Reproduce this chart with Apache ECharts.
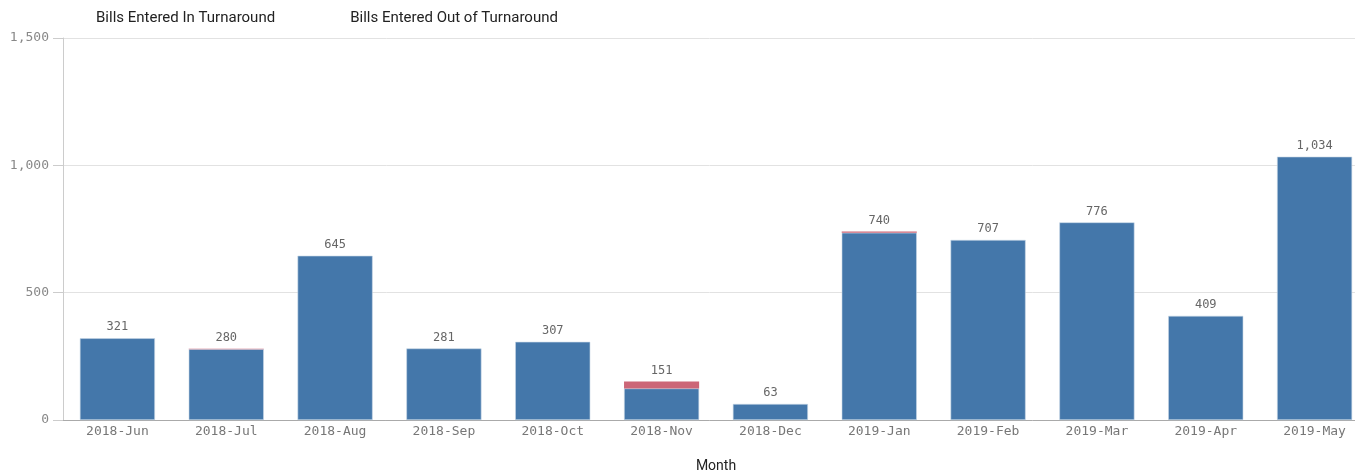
<!DOCTYPE html>
<html>
<head>
<meta charset="utf-8">
<script src="https://cdn.jsdelivr.net/npm/echarts@6/dist/echarts.min.js"></script>
<style>html,body{margin:0;padding:0;background:#fff;}#c{width:1355px;height:473px;}</style>
</head>
<body>
<div id="c"></div>
<script>
const categories = ['2018-Jun','2018-Jul','2018-Aug','2018-Sep','2018-Oct','2018-Nov','2018-Dec','2019-Jan','2019-Feb','2019-Mar','2019-Apr','2019-May'];
const inTurnaround = [321, 278, 645, 281, 307, 124, 63, 735, 707, 776, 409, 1034];
const outTurnaround = [0, 2, 0, 0, 0, 27, 0, 5, 0, 0, 0, 0];
const totals = inTurnaround.map((v, i) => v + outTurnaround[i]);
const yTicks = [0, 500, 1000, 1500];

const mono = 'DejaVu Sans Mono';
const chart = echarts.init(document.getElementById('c'));
chart.setOption({
  animation: false,
  legend: {
    left: 85, top: 6,
    itemWidth: 0, itemHeight: 0, itemGap: 70,
    icon: 'rect',
    textStyle: { fontFamily: 'Roboto', fontSize: 15, color: '#222' },
    data: ['Bills Entered In Turnaround', 'Bills Entered Out of Turnaround']
  },
  grid: { left: 63, right: -14, top: 38, bottom: 53, outerBoundsMode: 'none', containLabel: false },
  xAxis: {
    type: 'category',
    data: categories,
    name: 'Month',
    nameLocation: 'middle',
    nameGap: 39,
    nameTextStyle: { fontFamily: 'Roboto', fontSize: 14, color: '#222', padding: [0, 0, 0, 0] },
    axisLine: { lineStyle: { color: '#aaa' } },
    axisTick: { show: false },
    axisLabel: { fontFamily: mono, fontSize: 13, color: '#777', margin: 5 }
  },
  yAxis: {
    type: 'value',
    min: 0, max: 1500, interval: 500,
    axisLine: { show: true, lineStyle: { color: '#ccc' } },
    axisTick: { show: true, length: 10, lineStyle: { color: '#ccc' } },
    splitLine: { lineStyle: { color: '#e2e2e2' } },
    axisLabel: {
      fontFamily: mono, fontSize: 13, color: '#888', margin: 14,
      formatter: v => yTicks.includes(v) ? v.toLocaleString('en-US') : ''
    }
  },
  series: [
    {
      name: 'Bills Entered In Turnaround',
      type: 'bar', stack: 'a',
      barCategoryGap: '31%',
      data: inTurnaround,
      itemStyle: { color: '#4477aa', borderColor: '#c8d6e6', borderWidth: 0.6 }
    },
    {
      name: 'Bills Entered Out of Turnaround',
      type: 'bar', stack: 'a',
      data: outTurnaround,
      itemStyle: { color: '#cc6677' },
      label: {
        show: true, position: 'top', distance: 5,
        fontFamily: mono, fontSize: 12, color: '#666',
        formatter: p => totals[p.dataIndex].toLocaleString('en-US')
      }
    }
  ]
});
</script>
</body>
</html>
